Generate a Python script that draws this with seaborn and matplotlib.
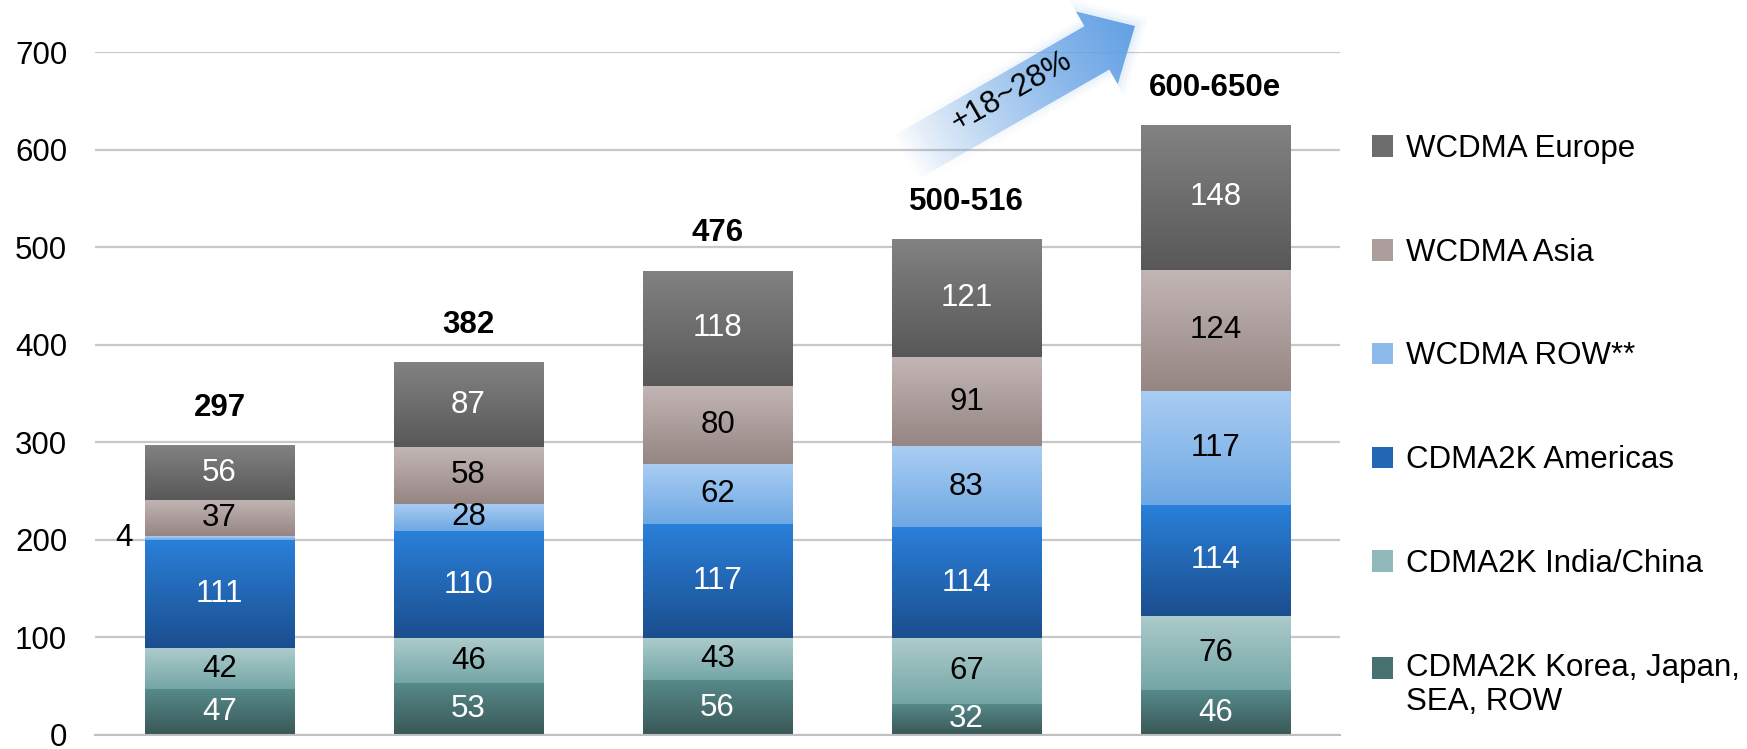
import numpy as np
import pandas as pd
import matplotlib
matplotlib.use("Agg")
import matplotlib.pyplot as plt
import seaborn as sns
from matplotlib.colors import LinearSegmentedColormap, to_rgb
from matplotlib.patches import Polygon, Patch, Rectangle
from matplotlib.legend_handler import HandlerPatch

# ---------------- data ----------------
categories = ["Bar 1", "Bar 2", "Bar 3", "Bar 4", "Bar 5"]
cdma_korea = [47, 53, 56, 32, 46]
cdma_india_china = [42, 46, 43, 67, 76]
cdma_americas = [111, 110, 117, 114, 114]
wcdma_row = [4, 28, 62, 83, 117]
wcdma_asia = [37, 58, 80, 91, 124]
wcdma_europe = [56, 87, 118, 121, 148]
total_labels = ["297", "382", "476", "500-516", "600-650e"]
series_names = ["CDMA2K Korea, Japan,\nSEA, ROW", "CDMA2K India/China",
                "CDMA2K Americas", "WCDMA ROW**", "WCDMA Asia", "WCDMA Europe"]
growth_label = "+18~28%"
y_ticks = [0, 100, 200, 300, 400, 500, 600, 700]

# (top colour, bottom colour, label colour)
styles = [
    ("#568a8a", "#3a5757", "white"),
    ("#adcbcb", "#74a6a6", "black"),
    ("#2a80da", "#1b4e8e", "white"),
    ("#aacdf3", "#6ea8e3", "black"),
    ("#c2b6b4", "#958583", "black"),
    ("#828282", "#585858", "white"),
]
series_vals = [cdma_korea, cdma_india_china, cdma_americas, wcdma_row, wcdma_asia, wcdma_europe]

sns.set_theme(style="white")
plt.rcParams['font.family'] = ['Liberation Sans', 'DejaVu Sans']
plt.rcParams['text.color'] = 'black'

FS = 22.5
W, H = 1747, 749
fig = plt.figure(figsize=(W / 100, H / 100), dpi=100)
ax = fig.add_axes([95 / W, 14 / H, (1340 - 95) / W, (735 - 52) / H])


def grad_fill(ax, patch, ctop, cbot):
    x, y = patch.get_x(), patch.get_y()
    w, h = patch.get_width(), patch.get_height()
    cmap = LinearSegmentedColormap.from_list("g", [cbot, ctop])
    grad = np.linspace(0, 1, 256).reshape(-1, 1)
    im = ax.imshow(grad, extent=[x, x + w, y, y + h], origin="lower", cmap=cmap,
                   aspect="auto", zorder=patch.get_zorder() + 0.01,
                   interpolation="bilinear")
    im.set_clip_path(patch)


bottom = np.zeros(len(categories))
bar_patches = []
for name, vals, (ctop, cbot, tcol) in zip(series_names, series_vals, styles):
    vals = np.asarray(vals, dtype=float)
    sns.barplot(x=categories, y=vals, bottom=bottom, color=cbot, width=0.6,
                saturation=1, ax=ax, zorder=2, linewidth=0)
    cont = ax.containers[-1]
    for p, v in zip(cont.patches, vals):
        grad_fill(ax, p, ctop, cbot)
        x, y, w, h = p.get_x(), p.get_y(), p.get_width(), p.get_height()
        if v < 12:
            ax.annotate(f"{int(v)}", (x, y + h / 2), xytext=(-9, 0),
                        textcoords="offset points", ha="right", va="center",
                        fontsize=FS, color="black", zorder=5)
        else:
            ax.text(x + w / 2, y + h / 2, f"{int(v)}", ha="center", va="center",
                    fontsize=FS, color=tcol, zorder=5)
    bar_patches.append(cont.patches)
    bottom = bottom + vals

# total labels
for p, lab in zip(bar_patches[-1], total_labels):
    ax.annotate(lab, (p.get_x() + p.get_width() / 2, p.get_y() + p.get_height()),
                xytext=(0, 27), textcoords="offset points", ha="center",
                va="center", fontsize=FS, fontweight="bold", color="black", zorder=5)

ax.set_xlim(-0.5, len(categories) - 0.5)
ax.set_ylim(0, 700)
ax.set_yticks(y_ticks)
ax.set_xticks(np.arange(-0.5, len(categories), 1.0))
ax.set_xticklabels([])
ax.tick_params(axis="y", length=0, labelsize=FS, pad=20, colors="black")
ax.tick_params(axis="x", length=8, width=1.5, color="#bfbfbf", direction="out")
ax.yaxis.grid(True, color="#c8c8c8", lw=1.6)
ax.xaxis.grid(False)
ax.set_axisbelow(True)
for s in ["left", "top", "right"]:
    ax.spines[s].set_visible(False)
ax.spines["bottom"].set_color("#bfbfbf")
ax.spines["bottom"].set_linewidth(1.5)
ax.set_xlabel("")
ax.set_ylabel("")


# legend (top to bottom: Europe ... Korea)
def mix(c1, c2):
    a, b = np.array(to_rgb(c1)), np.array(to_rgb(c2))
    return tuple((a + b) / 2)


def shifted_patch(legend, orig_handle, xdescent, ydescent, width, height, fontsize):
    return Rectangle((-xdescent, -ydescent + 0.56 * fontsize), width, height)


handles = [Patch(facecolor=mix(st[0], st[1]), edgecolor="none") for st in styles][::-1]
labels = series_names[::-1]
leg = ax.legend(handles, labels, loc="upper left",
                bbox_to_anchor=(1372 / W, 1 - 134 / H), bbox_transform=fig.transFigure,
                frameon=False, fontsize=FS, labelspacing=2.36, handlelength=0.68,
                handleheight=0.68, handletextpad=0.42, borderpad=0, borderaxespad=0,
                handler_map={handles[-1]: HandlerPatch(patch_func=shifted_patch)})
for txt in leg.get_texts():
    txt.set_color("black")

# growth arrow overlay (figure pixel space)
oax = fig.add_axes([0, 0, 1, 1], zorder=10)
oax.set_xlim(0, W)
oax.set_ylim(H, 0)
oax.axis("off")

T = np.array([905.0, 158.0])
P = np.array([1135.0, 26.0])
d = P - T
L = np.hypot(*d)
u = d / L
n = np.array([-u[1], u[0]])
hw, hhw, hl = 25.0, 42.0, 44.0
Hb = P - u * hl


def arrow_pts(e):
    return [T + n * (hw + e), Hb + n * (hw + e), Hb + n * (hhw + e * 1.6),
            P + u * e * 1.6, Hb - n * (hhw + e * 1.6), Hb - n * (hw + e), T - n * (hw + e)]


x0, x1, y0, y1 = 840, 1180, 0, 230
xs = np.linspace(x0, x1, 340)
ys = np.linspace(y0, y1, 230)
XX, YY = np.meshgrid(xs, ys)
t = np.clip(((XX - T[0]) * u[0] + (YY - T[1]) * u[1]) / L, 0, 1)
glow_rgb = np.array(to_rgb("#8fbcec"))

# soft glow, fading toward the tail like the arrow body
for e, a in [(9, 0.06), (6, 0.08), (3, 0.12)]:
    gpoly = Polygon(arrow_pts(e), closed=True, facecolor="none", edgecolor="none")
    oax.add_patch(gpoly)
    rgba = np.zeros(XX.shape + (4,))
    rgba[..., :3] = glow_rgb
    rgba[..., 3] = a * t ** 1.2
    gim = oax.imshow(rgba, extent=[x0, x1, y1, y0], interpolation="bilinear", aspect="auto")
    gim.set_clip_path(gpoly)

poly = Polygon(arrow_pts(0), closed=True, facecolor="none", edgecolor="none")
oax.add_patch(poly)
c1 = np.array(to_rgb("#62a0e4"))
rgba = np.zeros(XX.shape + (4,))
rgba[..., :3] = c1
rgba[..., 3] = np.clip(t ** 0.85, 0, 1)
im = oax.imshow(rgba, extent=[x0, x1, y1, y0], interpolation="bilinear", aspect="auto")
im.set_clip_path(poly)
oax.set_xlim(0, W)
oax.set_ylim(H, 0)

ang = np.degrees(np.arctan2(-d[1], d[0]))
oax.text(1012, 92, growth_label, rotation=ang, ha="center", va="center",
         fontsize=FS, color="black", rotation_mode="anchor")

fig.savefig("out.png", dpi=100)
